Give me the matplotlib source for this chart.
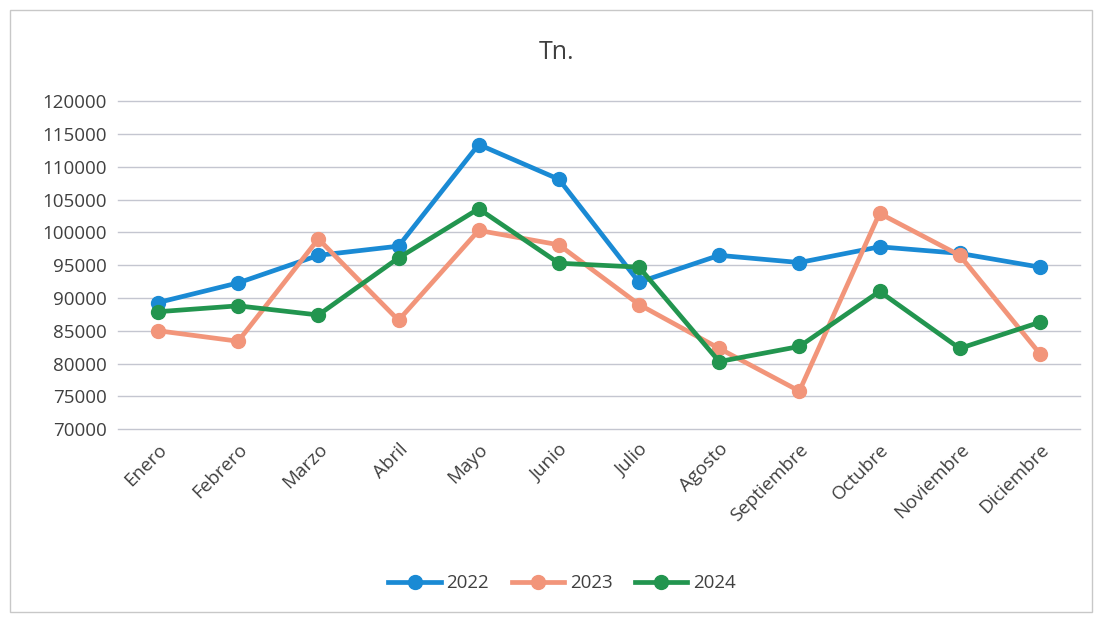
import matplotlib.pyplot as plt
from matplotlib.patches import Rectangle

plt.rcParams['font.family'] = ['Open Sans', 'DejaVu Sans']

meses = ["Enero", "Febrero", "Marzo", "Abril", "Mayo", "Junio", "Julio",
         "Agosto", "Septiembre", "Octubre", "Noviembre", "Diciembre"]
v2022 = [89300, 92300, 96500, 97900, 113400, 108100, 92400, 96500, 95400, 97800, 96800, 94700]
v2023 = [85000, 83400, 99000, 86600, 100300, 98100, 89000, 82300, 75800, 102900, 96500, 81500]
v2024 = [87900, 88800, 87400, 96100, 103600, 95300, 94700, 80300, 82600, 91000, 82300, 86300]
yticks = list(range(70000, 120001, 5000))

fig = plt.figure(figsize=(11.02, 6.21), dpi=100)
ax = fig.add_axes([0.107, 0.309, 0.873, 0.528])

# marco del grafico
fig.patches.append(Rectangle((0.009, 0.014), 0.982, 0.97, transform=fig.transFigure,
                             fill=False, edgecolor="#c8c8c8", linewidth=1))

x = range(len(meses))
ax.plot(x, v2022, color="#1a8ad4", lw=3.4, marker="o", ms=10, label="2022", zorder=3)
ax.plot(x, v2023, color="#f2957a", lw=3.4, marker="o", ms=10, label="2023", zorder=4)
ax.plot(x, v2024, color="#22954f", lw=3.4, marker="o", ms=10, label="2024", zorder=5)

ax.set_xlim(-0.5, len(meses) - 0.5)
ax.set_ylim(70000, 120000)
ax.set_yticks(yticks)
ax.set_yticklabels([str(t) for t in yticks])
ax.set_xticks(list(x))
ax.set_xticklabels(meses, rotation=45, ha="right", rotation_mode="anchor")
ax.tick_params(length=0, labelsize=13.5, colors="#404040", pad=8)
ax.grid(axis="y", color="#c4c6d0", lw=1)
for gl in ax.get_ygridlines():
    gl.set_clip_on(False)
ax.set_axisbelow(True)
for s in ax.spines.values():
    s.set_visible(False)

fig.text(0.505, 0.915, "Tn.", fontsize=18, color="#404040", ha="center", va="center")
fig.legend(loc="center", bbox_to_anchor=(0.51, 0.061), ncol=3, frameon=False,
           fontsize=13.5, handlelength=2.8, columnspacing=1.2, handletextpad=0.3,
           labelcolor="#404040")

plt.savefig("out.png")
plt.close()
